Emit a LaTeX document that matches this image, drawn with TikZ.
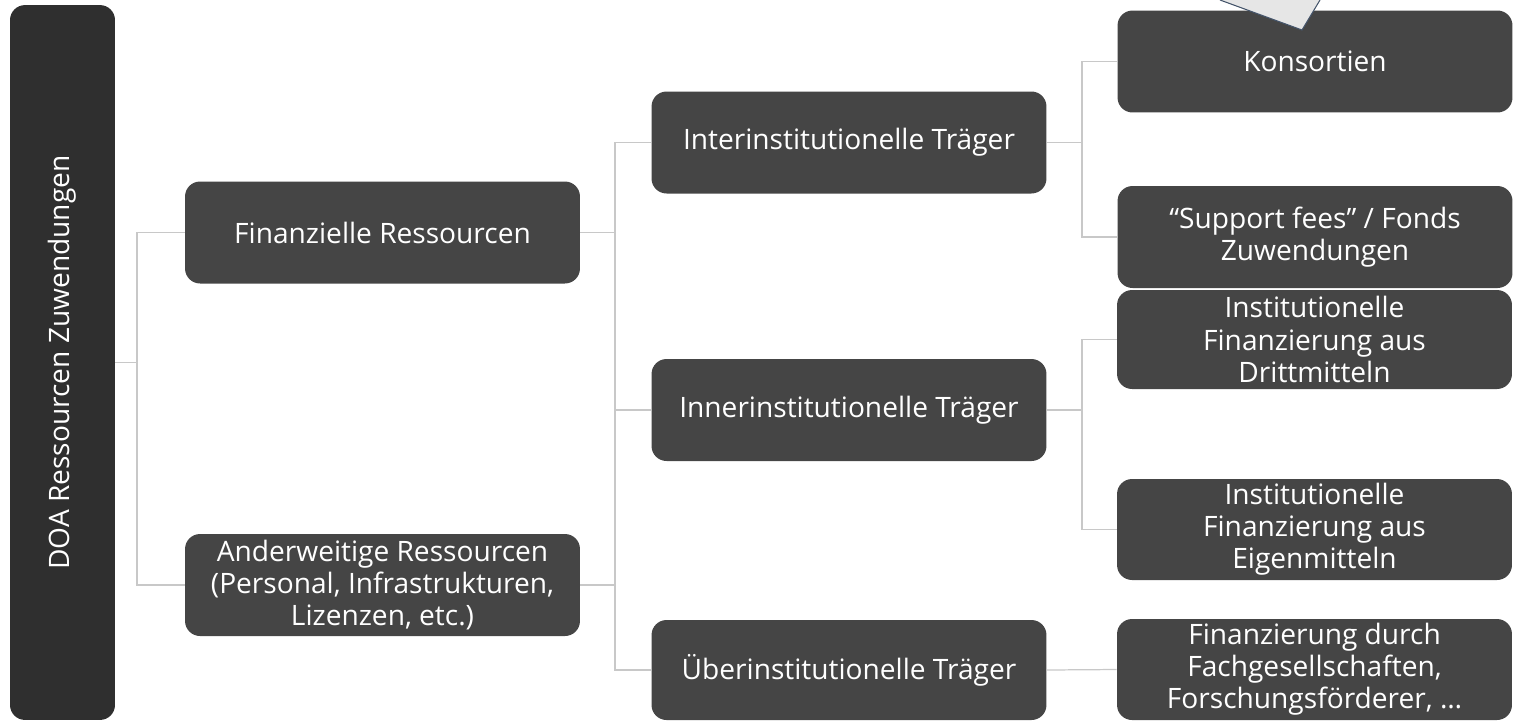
\documentclass[tikz,border=0pt]{standalone}
\usepackage{fontspec}
\setmainfont{Open Sans}
\definecolor{boxgray}{HTML}{454545}
\definecolor{rootgray}{HTML}{2F2F2F}
\definecolor{linegray}{HTML}{C8C8C8}
\definecolor{calloutfill}{HTML}{E6E6E6}
\definecolor{calloutline}{HTML}{44546A}

\begin{document}
\begin{tikzpicture}[x=0.02cm,y=-0.02cm,
		box/.style={fill=boxgray,text=white,rounded corners=0.3cm,align=center,
			minimum width=7.9cm,minimum height=2.04cm,inner sep=2pt,
			font=\fontsize{16}{18.3}\selectfont},
		link/.style={linegray,line width=0.7pt}]
			\useasboundingbox (0,0) rectangle (1518,725);
			% root
			\node[box,fill=rootgray,rotate=90,minimum width=14.3cm,minimum height=2.1cm] (root) at (62.5,362.5) {DOA Ressourcen Zuwendungen};
			% first level
			\node[box] (fin) at (382.5,232.5) {Finanzielle Ressourcen};
			\node[box] (and) at (382.5,585) {Anderweitige Ressourcen\\(Personal, Infrastrukturen,\\Lizenzen, etc.)};
			% second level
			\node[box] (inter) at (849,142.5) {Interinstitutionelle Träger};
			\node[box] (inner) at (849,410) {Innerinstitutionelle Träger};
			\node[box,minimum height=2cm] (ueber) at (849,670) {Überinstitutionelle Träger};
			% third level
			\node[box] (kons) at (1315,61.5) {Konsortien};
			\node[box] (supp) at (1315,237) {“Support fees” / Fonds\\Zuwendungen};
			\node[box,minimum height=1.98cm] (dritt) at (1314.5,339.5) {Institutionelle\\Finanzierung aus\\Drittmitteln};
			\node[box,minimum height=2.02cm] (eigen) at (1314.5,529.5) {Institutionelle\\Finanzierung aus\\Eigenmitteln};
			\node[box,minimum height=2.02cm] (fach) at (1314.5,669.5) {Finanzierung durch\\Fachgesellschaften,\\Forschungsförderer, …};
			% connectors
			\coordinate (j1) at (137,0);
			\coordinate (j2) at (615,0);
			\coordinate (j3) at (1082,0);
			\draw[link] (root.south) -- (root.south -| j1);
			\draw[link] (fin.west) -| (j1 |- and.west) -- (and.west);
			\foreach \n in {fin,and}
				\draw[link] (\n.east) -- (\n.east -| j2);
			\draw[link] (inter.west) -| (j2 |- ueber.west) -- (ueber.west);
			\draw[link] (inner.west) -- (inner.west -| j2);
			\foreach \n in {inter,inner}
				\draw[link] (\n.east) -- (\n.east -| j3);
			\draw[link] (kons.west) -| (j3 |- supp.west) -- (supp.west);
			\draw[link] (dritt.west) -| (j3 |- eigen.west) -- (eigen.west);
			\draw[link] (ueber.east) -- (fach.west);
			% cut-off callout
			\fill[calloutfill] (1220,0) -- (1302,30) -- (1320,0) -- cycle;
			\draw[calloutline,line width=0.6pt] (1220,0) -- (1302,30) -- (1320,0);
		\end{tikzpicture}
\end{document}
